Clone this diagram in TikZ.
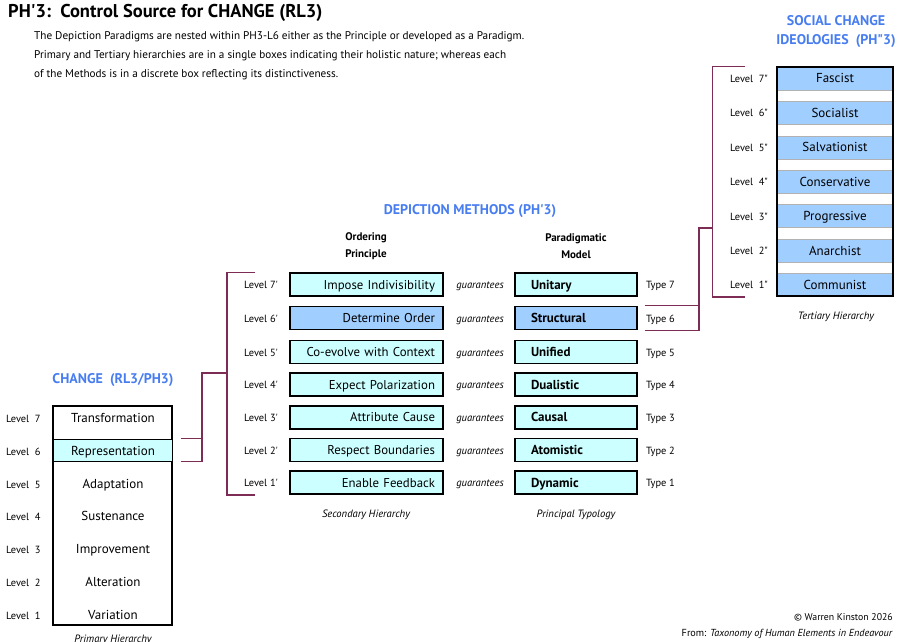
\documentclass[tikz,border=0pt]{standalone}
\usepackage{fontspec}
\setmainfont{PT Sans}[Ligatures=TeXOff]
\usetikzlibrary{positioning}

\definecolor{headblue}{RGB}{72,125,240}
\definecolor{boxblue}{RGB}{160,206,255}
\definecolor{boxcyan}{RGB}{204,255,255}
\definecolor{bracket}{RGB}{125,45,85}

\tikzset{
  heading/.style={font=\bfseries\fontsize{14}{18.5}\selectfont,text=headblue,align=center},
  colhead/.style={font=\bfseries\fontsize{11}{17}\selectfont,align=center},
  lvl/.style={font=\fontsize{10.4}{11}\selectfont,anchor=mid west,inner sep=0pt,yshift=-1.5pt},
  note/.style={font=\itshape\fontsize{10.6}{11}\selectfont,anchor=mid,inner sep=0pt,yshift=-1.5pt},
  principle/.style={draw,line width=1.6pt,fill=boxcyan,minimum height=23pt,text width=137pt,
    inner xsep=8pt,inner ysep=0pt,align=right,text height=2ex,text depth=.2ex,
    font=\fontsize{12.8}{13}\selectfont},
  model/.style={draw,line width=1.6pt,fill=boxcyan,minimum height=23pt,text width=90pt,
    inner xsep=16pt,inner ysep=0pt,align=left,text height=2ex,text depth=.2ex,
    font=\bfseries\fontsize{13}{13}\selectfont},
  row/.style={font=\fontsize{13}{13}\selectfont,anchor=mid,inner sep=0pt,yshift=-1.5pt},
  ideo/.style={draw=gray!60,fill=boxblue,minimum width=116pt,minimum height=23pt,inner sep=0pt,
    text height=2ex,text depth=.2ex,font=\fontsize{13}{13}\selectfont},
  brk/.style={draw=bracket,line width=1.3pt},
}

\begin{document}
\begin{tikzpicture}[x=1pt,y=-1pt]
\useasboundingbox (0,0) rectangle (900,642);
\newcommand{\method}[7]{%
  \node[lvl] (l#1) at (244,#2) {Level\ #1'};
  \node[principle,#7] (o#1) at (366.5,#2) {#3};
  \node[note] (g#1) at (480,#2) {guarantees};
  \node[model,#7] (m#1) at (576,#2) {#4};
  \node[lvl] (ty#1) at (646,#2) {Type #1};}

\node[anchor=base west,inner sep=0pt,font=\bfseries\fontsize{18.5}{20}\selectfont] (title) at (8,18)
  {PH'3:\ \ Control Source for CHANGE (RL3)};
\node[anchor=north west,inner sep=0pt,align=left,font=\fontsize{11.2}{19.3}\selectfont] (intro) at (34,31)
  {The Depiction Paradigms are nested within PH3-L6 either as the Principle or developed as a Paradigm.\\
   Primary and Tertiary hierarchies are in a single boxes indicating their holistic nature; whereas each\\
   of the Methods is in a discrete box reflecting its distinctiveness.};

% primary hierarchy
\node[heading] (changehead) at (113,380) {CHANGE\ \ (RL3/PH3)};
\node[draw,line width=1.6pt,minimum width=119pt,minimum height=219pt,inner sep=0pt] (pbox) at (112.5,515.5) {};
\node[draw,thin,fill=boxcyan,minimum width=119pt,minimum height=22pt,inner sep=0pt] (rep) at (112.5,450) {};
\node[row] (p7) at (113,418) {Transformation};
\node[row] (p6) at (113,451) {Representation};
\node[row] (p5) at (113,484) {Adaptation};
\node[row] (p4) at (113,516.7) {Sustenance};
\node[row] (p3) at (113,549.5) {Improvement};
\node[row] (p2) at (113,582.2) {Alteration};
\node[row] (p1) at (113,615) {Variation};
\node[lvl] (pl7) at (6,418) {Level\ \ 7};
\node[lvl] (pl6) at (6,451) {Level\ \ 6};
\node[lvl] (pl5) at (6,484) {Level\ \ 5};
\node[lvl] (pl4) at (6,516.7) {Level\ \ 4};
\node[lvl] (pl3) at (6,549.5) {Level\ \ 3};
\node[lvl] (pl2) at (6,582.2) {Level\ \ 2};
\node[lvl] (pl1) at (6,615) {Level\ \ 1};
\node[note] (primcap) at (113,638) {Primary Hierarchy};

% depiction methods
\node[heading] (methhead) at (470,211) {DEPICTION METHODS (PH'3)};
\node[colhead] (ordhead) at (366,246.5) {Ordering\\Principle};
\node[colhead] (parhead) at (576,246.5) {Paradigmatic\\Model};
\method{7}{284.5}{Impose Indivisibility}{Unitary}{}{}{}
\method{6}{318}{Determine Order}{Structural}{}{}{fill=boxblue}
\method{5}{352}{Co-evolve with Context}{Unified}{}{}{}
\method{4}{384.7}{Expect Polarization}{Dualistic}{}{}{}
\method{3}{417.3}{Attribute Cause}{Causal}{}{}{}
\method{2}{450}{Respect Boundaries}{Atomistic}{}{}{}
\method{1}{482.7}{Enable Feedback}{Dynamic}{}{}{}
\node[note] (seccap) at (366,513) {Secondary Hierarchy};
\node[note] (typcap) at (576,513) {Principal Typology};

% social change ideologies
\node[heading] (ideohead) at (836,31.5) {SOCIAL CHANGE\\IDEOLOGIES\ \ (PH"3)};
\node[ideo] (t7) at (835,78.5) {Fascist};
\node[ideo] (t6) at (835,112.9) {Socialist};
\node[ideo] (t5) at (835,147.3) {Salvationist};
\node[ideo] (t4) at (835,181.7) {Conservative};
\node[ideo] (t3) at (835,216.1) {Progressive};
\node[ideo] (t2) at (835,250.5) {Anarchist};
\node[ideo] (t1) at (835,284.9) {Communist};
\node[draw,line width=1.6pt,minimum width=116pt,minimum height=229pt,inner sep=0pt] (tbox) at (835,181.7) {};
\node[lvl] (tl7) at (730,78.5) {Level\ \ 7"};
\node[lvl] (tl6) at (730,112.9) {Level\ \ 6"};
\node[lvl] (tl5) at (730,147.3) {Level\ \ 5"};
\node[lvl] (tl4) at (730,181.7) {Level\ \ 4"};
\node[lvl] (tl3) at (730,216.1) {Level\ \ 3"};
\node[lvl] (tl2) at (730,250.5) {Level\ \ 2"};
\node[lvl] (tl1) at (730,284.9) {Level\ \ 1"};
\node[note] (tercap) at (836,315) {Tertiary Hierarchy};

% brackets
\coordinate (lj) at (202,373);
\coordinate (lk) at (227,373);
\coordinate (rj) at (699,228);
\coordinate (rk) at (712.5,228);
\draw[brk] ([xshift=9pt]rep.north east) -- (rep.north east -| lj);
\draw[brk] ([xshift=9pt]rep.south east) -| (lj) -- (lk);
\draw[brk] ([xshift=-34pt]o7.north west) -- (o7.north west -| lk) -- (o1.south west -| lk) -- ([xshift=-34pt]o1.south west);
\draw[brk] ([xshift=7pt]m6.north east) -- (m6.north east -| rj);
\draw[brk] ([xshift=7pt]m6.south east) -| (rj) -- (rk);
\draw[brk] ([xshift=-31pt]tbox.north west) -- (tbox.north west -| rk) -- (tbox.south west -| rk) -- ([xshift=-31pt]tbox.south west);

\node[anchor=base east,inner sep=0pt,font=\fontsize{9.8}{10}\selectfont] (copy) at (893,620) {© Warren Kinston 2026};
\node[anchor=base east,inner sep=0pt,font=\fontsize{10.2}{10}\selectfont] (from) at (893,636)
  {From: \textit{Taxonomy of Human Elements in Endeavour}};
\end{tikzpicture}
\end{document}
